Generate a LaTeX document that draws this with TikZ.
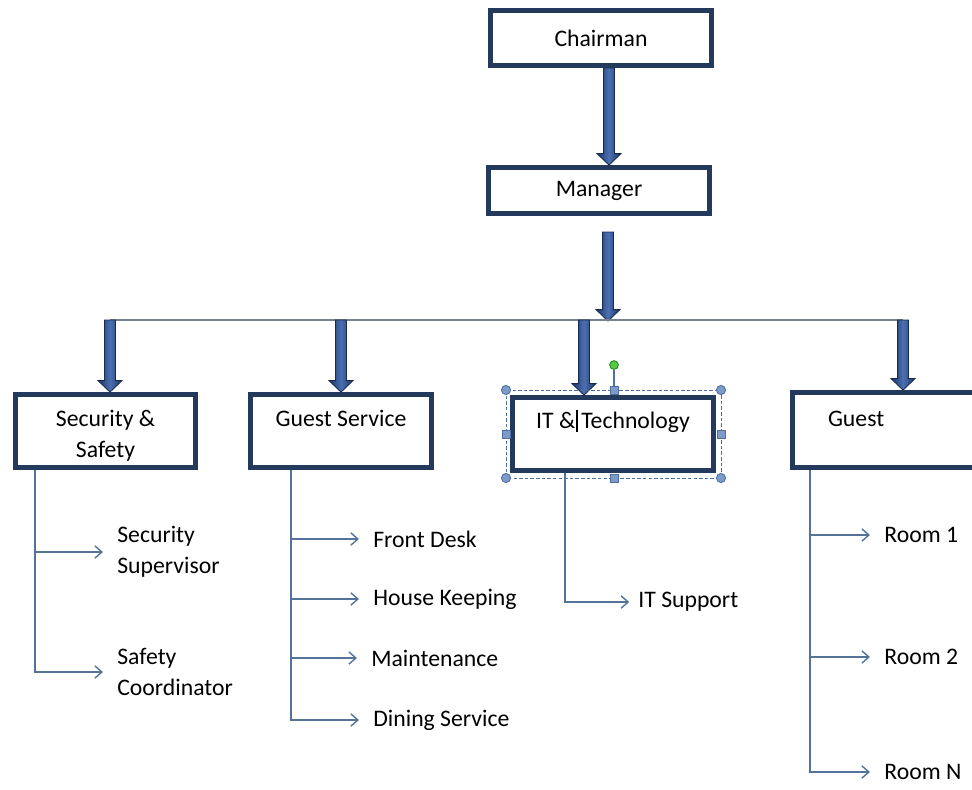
\documentclass[tikz,border=0pt]{standalone}
\usepackage{fontspec}
\setmainfont{Carlito}
\usepackage{tikz}
\definecolor{boxedge}{RGB}{36,58,92}
\definecolor{arrowdark}{RGB}{30,54,104}
\definecolor{arrowlight}{RGB}{74,112,178}
\definecolor{arrowedge}{RGB}{26,42,78}
\definecolor{leafblue}{RGB}{84,115,155}
\definecolor{busgray}{RGB}{120,130,142}
\definecolor{handleblue}{RGB}{125,155,200}
\definecolor{handleedge}{RGB}{80,110,160}
\definecolor{handlegreen}{RGB}{90,200,70}
\usetikzlibrary{arrows.meta,calc}

% block arrow, straight down from #1 to #2
\newcommand{\bigarrow}[2]{%
  \draw[bigarrow] let \p1=(#1), \p2=(#2) in
    (\x1-3.1pt,\y1) -- (\x1-3.1pt,\y2+6.5pt) -- (\x1-6.8pt,\y2+6.5pt) -- (\x1,\y2)
    -- (\x1+6.8pt,\y2+6.5pt) -- (\x1+3.1pt,\y2+6.5pt) -- (\x1+3.1pt,\y1) -- cycle;}

\begin{document}
\begin{tikzpicture}[x=0.02cm, y=-0.02cm, font=\fontsize{13.5}{17.6}\selectfont,
    box/.style={draw=boxedge, line width=2.8pt, fill=white, align=center},
    raised/.style={text height=9pt, text depth=#1},
    bigarrow/.style={draw=arrowedge, line width=0.5pt, left color=arrowdark,
      right color=arrowdark, middle color=arrowlight},
    leaf/.style={draw=leafblue, line width=0.8pt,
      -{Straight Barb[length=4pt,width=7pt]}, shorten >=8pt},
    leaftext/.style={anchor=west, inner sep=0pt, align=left},
    handle/.style={fill=handleblue, draw=handleedge, line width=0.5pt}]
    \useasboundingbox (0,0) rectangle (972,789);

    % Top of the chart
    \node[box, minimum width=4.42cm, minimum height=1.1cm] (chair) at (601,38) {Chairman};
    \node[box, minimum width=4.42cm, minimum height=0.92cm] (mgr) at (599,190.5) {Manager};

    % Departments
    \node[box, minimum width=3.6cm, minimum height=1.46cm] (ss) at (105.5,431)
      {\rule{0pt}{15pt}Security \&\\Safety};
    \node[box, raised=13.6pt, minimum width=3.62cm, minimum height=1.46cm] (gs) at (341,431) {Guest Service};
    \node[box, raised=15.8pt, minimum width=4.02cm, minimum height=1.46cm] (it) at (613,434)
      {IT \&\kern0.6pt\vrule width 0.8pt height 10.5pt depth 2pt\kern2pt Technology};
    \node[box, raised=13pt, minimum height=1.5cm, inner xsep=0.71cm, text width=2.73cm,
      align=left] (guest) at (896.25,430) {Guest};

    % Arrows down from the top
    \coordinate (c1) at (609,0);
    \coordinate (mgrOut) at (608,232);
    \coordinate (busM) at (608,321);
    \bigarrow{c1 |- chair.south}{c1 |- mgr.north}
    \bigarrow{mgrOut}{busM}

    % Bus line and drops to the departments
    \coordinate (d1) at (110,320);
    \coordinate (d2) at (341,320);
    \coordinate (d3) at (584,320);
    \coordinate (d4) at (903,320);
    \draw[busgray, line width=0.8pt] (d1) -- (d4);
    \bigarrow{d1}{d1 |- ss.north}
    \bigarrow{d2}{d2 |- gs.north}
    \bigarrow{d3}{d3 |- it.north}
    \bigarrow{d4}{d4 |- guest.north}

    % Selection frame round IT & Technology
    \draw[handleedge, line width=0.5pt, dash pattern=on 2pt off 1.2pt] (506,390) rectangle (721,478);
    \draw[handleedge, line width=0.6pt] (614,370) -- (614,386);
    \foreach \hx/\hy in {506/390,721/390,506/478,721/478}
      \filldraw[handle] (\hx,\hy) circle (2.6pt);
    \foreach \hx/\hy in {614/390,614/478,506/434,721/434}
      \filldraw[handle] (\hx-4,\hy-4) rectangle (\hx+4,\hy+4);
    \filldraw[fill=handlegreen, draw=green!50!black, line width=0.4pt] (614,365) circle (2.5pt);

    % Sub units
    \node[leaftext] (sup) at (117,552) {Security\\Supervisor};
    \node[leaftext] (coord) at (117,672) {Safety\\Coordinator};
    \node[leaftext] (front) at (373,539) {Front Desk};
    \node[leaftext] (house) at (373,599) {House Keeping};
    \node[leaftext] (maint) at (371,658) {Maintenance};
    \node[leaftext] (dining) at (373,720) {Dining Service};
    \node[leaftext] (itsup) at (638,602) {IT Support};
    \node[leaftext] (room1) at (884,535) {Room 1};
    \node[leaftext] (room2) at (884,657) {Room 2};
    \node[leaftext] (roomN) at (884,772) {Room N};

    \coordinate (ssT) at ($(ss.south west)+(22,0)$);
    \coordinate (gsT) at ($(gs.south west)+(43,0)$);
    \coordinate (itT) at ($(it.south west)+(55,0)$);
    \coordinate (guT) at ($(guest.south west)+(20,0)$);

    \draw[leaf] (ssT) |- (sup.west);
    \draw[leaf] (ssT) |- (coord.west);
    \draw[leaf] (gsT) |- (front.west);
    \draw[leaf] (gsT) |- (house.west);
    \draw[leaf] (gsT) |- (maint.west);
    \draw[leaf] (gsT) |- (dining.west);
    \draw[leaf, shorten >=5pt] (itT) |- (itsup.west);
    \draw[leaf] (guT) |- (room1.west);
    \draw[leaf] (guT) |- (room2.west);
    \draw[leaf] (guT) |- (roomN.west);
\end{tikzpicture}
\end{document}
